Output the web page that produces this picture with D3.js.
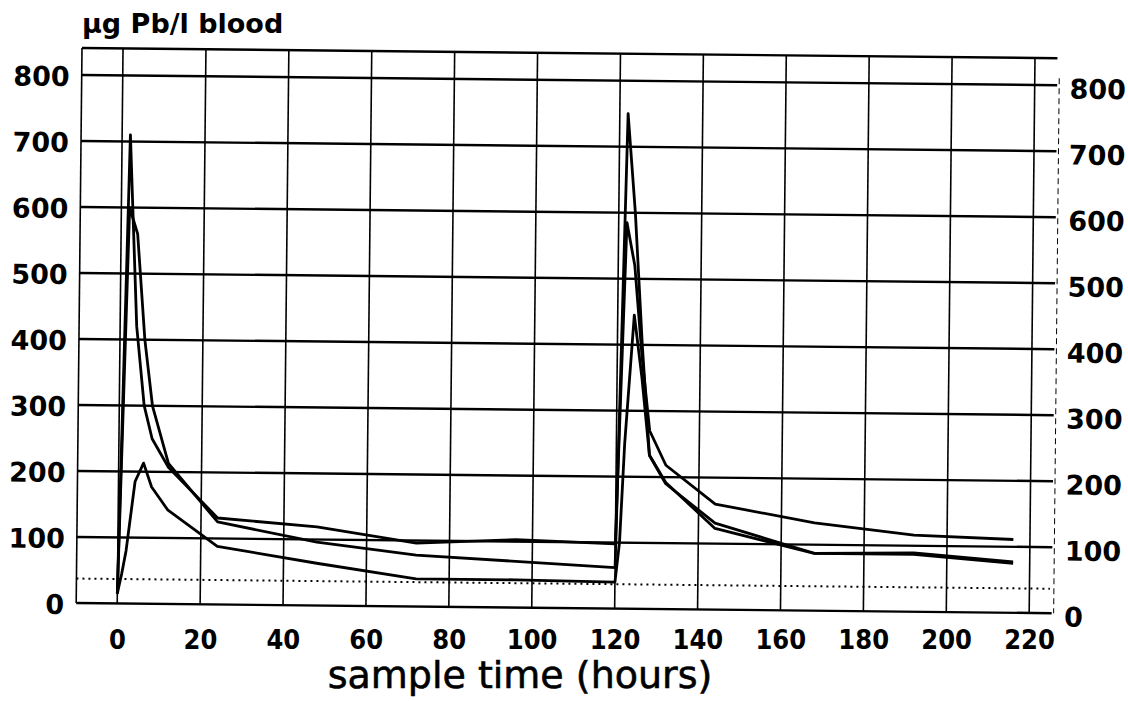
<!DOCTYPE html>
<html>
<head>
<meta charset="utf-8">
<script src="https://cdn.jsdelivr.net/npm/d3@7"></script>
<style>
  body { margin: 0; background: #fff; }
  svg { display: block; }
  text { fill: #000; }
</style>
</head>
<body>
<div id="chart"></div>
<script>
// sample times (hours) shared by the three blood curves
var hours = [0, 1, 2, 4, 6, 8, 12, 24, 48, 72, 96, 120, 121, 122, 124, 126, 128, 132, 144, 168, 192, 216];

// µg Pb/l blood, one array per subject (null = no sample drawn)
var subjectA = [15, null, 710, 420, 300, 250, 207, 131, 119, 96, 103, 98, null, 585, 520, 380, 270, 218, 160, 133, 116, 111];
var subjectB = [15, null, 600, 560, 400, 300, 213, 125, 96, 78, 70, 62, null, 750, 600, 400, 233, 190, 131, 87, 89, 77];
var subjectC = [15, 45, 80, 185, 213, 177, 142, 88, 64, 42, 42, 40, 100, 250, 445, 350, 233, 192, 123, 87, 87, 75];

var refLevel = 37;

var yTicks = [0, 100, 200, 300, 400, 500, 600, 700, 800];
var xTicks = [0, 20, 40, 60, 80, 100, 120, 140, 160, 180, 200, 220];

var width = 1128, height = 701;
var plotLeft = 82, plotRight = 1059.5, plotTop = 48, plotBottom = 603;
var tilt = 0.6; // the scanned page is slightly rotated

var svg = d3.select("#chart").append("svg")
    .attr("width", width)
    .attr("height", height);

var x = d3.scaleLinear().domain([-9.9, 225.9]).range([plotLeft, plotRight]);
var y = d3.scaleLinear().domain([0, 800]).range([plotBottom, 75]);

svg.append("text")
    .attr("x", 82)
    .attr("y", 33)
    .attr("font-family", "DejaVu Sans")
    .attr("font-weight", "bold")
    .attr("font-size", 27)
    .text("µg Pb/l blood");

var g = svg.append("g")
    .attr("transform", "rotate(" + tilt + "," + plotLeft + "," + plotTop + ")");

// vertical grid
g.selectAll(".vgrid")
    .data(xTicks)
    .enter().append("line")
    .attr("class", "vgrid")
    .attr("x1", function(d) { return x(d); })
    .attr("x2", function(d) { return x(d); })
    .attr("y1", plotTop)
    .attr("y2", plotBottom)
    .attr("stroke", "#000")
    .attr("stroke-width", 1.6);

// left border and dashed right border
g.append("line")
    .attr("x1", plotLeft).attr("x2", plotLeft)
    .attr("y1", plotTop).attr("y2", plotBottom)
    .attr("stroke", "#000").attr("stroke-width", 1.6);
g.append("line")
    .attr("x1", plotRight).attr("x2", plotRight)
    .attr("y1", plotTop + 20).attr("y2", plotBottom)
    .attr("stroke", "#000").attr("stroke-width", 1)
    .attr("stroke-dasharray", "6,4");

// horizontal grid, top border
g.selectAll(".hgrid")
    .data(yTicks)
    .enter().append("line")
    .attr("class", "hgrid")
    .attr("x1", plotLeft)
    .attr("x2", plotRight - 2)
    .attr("y1", function(d) { return y(d); })
    .attr("y2", function(d) { return y(d); })
    .attr("stroke", "#000")
    .attr("stroke-width", 2.4);
g.append("line")
    .attr("x1", plotLeft).attr("x2", plotRight - 2)
    .attr("y1", plotTop).attr("y2", plotTop)
    .attr("stroke", "#000").attr("stroke-width", 2.4);

// dotted reference level
g.append("line")
    .attr("x1", plotLeft).attr("x2", plotRight - 4)
    .attr("y1", y(refLevel)).attr("y2", y(refLevel))
    .attr("stroke", "#000").attr("stroke-width", 2)
    .attr("stroke-dasharray", "2,4");

// left and right value axes
var yAxisL = g.append("g")
    .attr("transform", "translate(" + (plotLeft - 12) + ",2)")
    .call(d3.axisLeft(y).tickValues(yTicks).tickSize(0).tickPadding(0));
var yAxisR = g.append("g")
    .attr("transform", "translate(1070,4)")
    .call(d3.axisRight(y).tickValues(yTicks).tickSize(0).tickPadding(0));
[yAxisL, yAxisR].forEach(function(a) {
    a.select(".domain").remove();
    a.selectAll("text")
        .attr("font-family", "DejaVu Sans")
        .attr("font-weight", "bold")
        .attr("font-size", 27)
        .attr("fill", "#000");
});

// time axis labels sit level under the tilted grid
var xAxis = svg.append("g")
    .attr("transform", "translate(-6,640)")
    .call(d3.axisBottom(x).tickValues(xTicks).tickSize(0).tickPadding(0));
xAxis.select(".domain").remove();
xAxis.selectAll("text")
    .attr("dy", "0.35em")
    .attr("font-family", "DejaVu Sans Condensed, DejaVu Sans")
    .attr("font-weight", "bold")
    .attr("font-size", 27)
    .attr("fill", "#000");

// curves
var line = d3.line()
    .x(function(d) { return x(d.t); })
    .y(function(d) { return y(d.v); });

[subjectA, subjectB, subjectC].forEach(function(vals) {
    var pts = hours.map(function(t, i) { return {t: t, v: vals[i]}; })
        .filter(function(d) { return d.v !== null; });
    g.append("path")
        .datum(pts)
        .attr("fill", "none")
        .attr("stroke", "#000")
        .attr("stroke-width", 2.8)
        .attr("stroke-linejoin", "round")
        .attr("d", line);
});

svg.append("text")
    .attr("x", 520)
    .attr("y", 688)
    .attr("text-anchor", "middle")
    .attr("font-family", "DejaVu Sans")
    .attr("font-size", 38)
    .attr("stroke", "#000")
    .attr("stroke-width", 0.6)
    .text("sample time (hours)");
</script>
</body>
</html>
